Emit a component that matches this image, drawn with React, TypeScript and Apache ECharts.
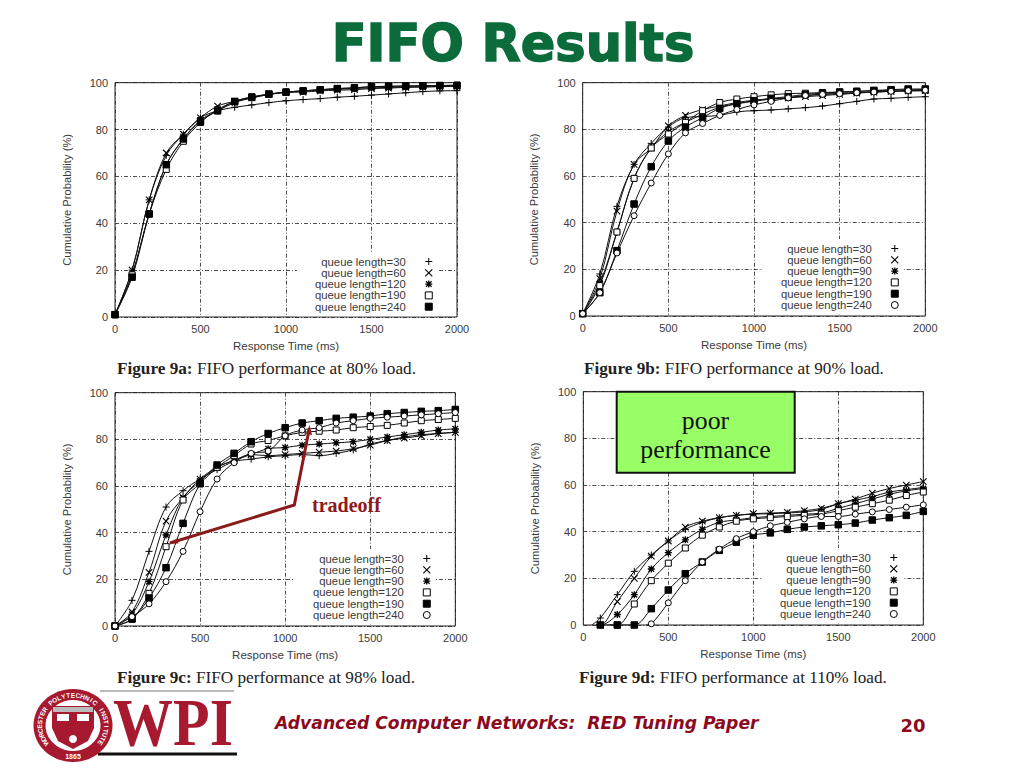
import React, { useEffect, useRef } from "react";
import * as echarts from "echarts";

const xSteps = [0,100,200,300,400,500,600,700,800,900,1000,1100,1200,1300,1400,1500,1600,1700,1800,1900,2000];

const a30 = [1,20,50,69,78,85,88,89.5,90.5,91.5,92.3,92.8,93.2,93.8,94.2,94.7,95.2,95.7,96.2,96.5,96.6];
const a60 = [1,20,50,70,78,85,90,92,93.5,95,95.8,96,96.5,96.8,97,97.5,97.7,98,98.1,98.3,98.4];
const a120 = [1,18,44,65,76,84,88,91.5,93.5,95,96,96.5,97,97.2,97.5,97.8,98,98.2,98.3,98.4,98.5];
const a190 = [1,18,44,63,75,83,88.5,92,94,95,96,96.5,97,97.5,97.8,98.3,98.4,98.6,98.7,98.8,99];
const a240 = [1,17,44,65,76,83.5,88,92,93.8,95.2,96,96.5,97,97.5,97.8,98.3,98.5,98.6,98.7,98.8,98.8];

const b30 = [1,18,47,65,74,81,85,85.5,86,87.5,88,88.3,88.8,89.3,90,91,92,93,93.3,93.7,94];
const b60 = [1,16,45,65,72,81.5,86,88.5,90,91.5,92.5,93,93.5,94,94.5,95,95.5,96,96.3,96.5,96.7];
const b90 = [1,14,36,59,72,79,83,86.5,89.5,91,92,93,93.5,94.5,95,95.5,95.7,96,96.3,96.5,96.5];
const b120 = [1,13,36,59,72,78,83,88,91.5,93,94,94.8,95.3,95.5,95.8,96,96.3,96.5,96.8,97,97];
const b190 = [1,10,28,48,64,75,81,85,89,91,92.3,93.3,94,95,95.5,96,96.3,96.7,97,97.3,97.3];
const b240 = [1,10,27,43,57,69.5,78.5,82.5,86,88.5,90.5,92,93.5,94.5,95,95.3,95.7,96,96.3,96.6,96.8];

const c30 = [0,11,32,51,58,63,67,70.5,71.5,72.5,73,73.5,73,74,75.5,78,79.5,81,82,82.5,83];
const c60 = [0,6,23,45,55,63,68,71,73.5,73,73.5,74,74.5,75,76,77.5,79.5,80.5,81.5,82.5,83];
const c90 = [0,5,19,39,55,62,68,71,73.5,76,76.5,77.5,78,78.5,79,80,81,82,83,84,84.5];
const c120 = [0,3,14,34,54,61,68,73,78,79.5,81.5,83,83.5,84,85,85.5,86,87,88,88.5,89];
const c190 = [0,3,12,25,44,61,69,74,79,82.5,85,87,88,89,89.5,90,91,91.5,92,92.3,92.8];
const c240 = [0,4,9.5,19,32,49,63,70,74,75,81.5,84,85,87,88,89,89.5,90,90.5,91,91.5];

const d30 = [null,3,13,23,30,36,41,44,46,47,47.5,47.7,48,48.5,49.5,52,53.5,55,57,58,59];
const d60 = [null,0,10,20,29.5,36,42,44.5,46,47,47.7,48,48.3,49,50,52,54,56.5,58.5,60,61.5];
const d90 = [null,0,4.5,13,24,31,36.5,41,44,45,46,46.5,47,47.5,48,50,52,54,56,57.5,58.5];
const d120 = [null,null,0,9,19,26.5,33,38.5,42,44.5,45.5,46,46.5,47,47.5,49,50.5,52,53.5,55.5,57];
const d190 = [null,0,0,0,7,15,22,27,32,35.5,38.5,39.5,41,42,42.5,43,43.7,45,46,47,48.7];
const d240 = [null,null,null,null,0.5,9.5,19,27,32.5,37,40,42.5,44,45.5,46.5,46.5,47.5,48.5,49.5,50.5,51.5];

const PLUS = "path://M0 5H10M5 0V10";
const CROSS = "path://M1 1L9 9M1 9L9 1";
const STAR = "path://M0 5H10M5 0V10M1 1L9 9M1 9L9 1";
const SQUARE = "path://M0 0H10V10H0Z";
const DOT = "path://M0 5A5 5 0 1 1 10 5A5 5 0 1 1 0 5Z";

const marks: Record<string, any> = {
  plus: { symbol: PLUS, size: 7, fill: "transparent", stroke: 1 },
  cross: { symbol: CROSS, size: 6.5, fill: "transparent", stroke: 1.1 },
  star: { symbol: STAR, size: 7, fill: "transparent", stroke: 1.3 },
  open: { symbol: SQUARE, size: 6, fill: "#fff", stroke: 1 },
  full: { symbol: SQUARE, size: 6.5, fill: "#000", stroke: 1 },
  ring: { symbol: DOT, size: 6, fill: "#fff", stroke: 1 },
};

const panels = [
  { grid: { left: 115, top: 82.7, width: 342, height: 234.3 }, legend: { left: 297, top: 252 },
    series: [["queue length=30", "plus", a30], ["queue length=60", "cross", a60], ["queue length=120", "star", a120], ["queue length=190", "open", a190], ["queue length=240", "full", a240]] },
  { grid: { left: 582.7, top: 82.7, width: 342.6, height: 233.3 }, legend: { left: 763, top: 239 },
    series: [["queue length=30", "plus", b30], ["queue length=60", "cross", b60], ["queue length=90", "star", b90], ["queue length=120", "open", b120], ["queue length=190", "full", b190], ["queue length=240", "ring", b240]] },
  { grid: { left: 115, top: 392.7, width: 340.3, height: 233.3 }, legend: { left: 295, top: 549 },
    series: [["queue length=30", "plus", c30], ["queue length=60", "cross", c60], ["queue length=90", "star", c90], ["queue length=120", "open", c120], ["queue length=190", "full", c190], ["queue length=240", "ring", c240]] },
  { grid: { left: 583.3, top: 391.7, width: 340, height: 233.3 }, legend: { left: 762, top: 548 },
    series: [["queue length=30", "plus", d30, 50], ["queue length=60", "cross", d60, 75], ["queue length=90", "star", d90, 75], ["queue length=120", "open", d120, 150], ["queue length=190", "full", d190], ["queue length=240", "ring", d240, 370]] },
];

const FONT = "'Liberation Sans', Arial, sans-serif";
const SERIF = "'Liberation Serif', serif";
const TEXT_GRAY = "#3a3a3a";
const CRIMSON = "#a6192e";
const MAROON = "#8b0a1e";

const sealLetters = (text: string, startDeg: number, endDeg: number) => {
  const chars = text.split("");
  return chars.map((ch, i) => {
    const t = startDeg + ((endDeg - startDeg) * i) / (chars.length - 1);
    const r = (t * Math.PI) / 180;
    return {
      type: "text", z: 22,
      x: 73 + 33.5 * Math.sin(r), y: 725.5 - 30.5 * Math.cos(r),
      rotation: -r,
      style: { text: ch, fill: "#fff", font: `bold 6.5px ${FONT}`, textAlign: "center", textVerticalAlign: "middle" },
    };
  });
};

const caption = (x: number, y: number, head: string, rest: string) => ({
  type: "text", z: 10, x, y,
  style: {
    text: `{b|${head}}{n| ${rest}}`,
    rich: {
      b: { font: `bold 17.2px ${SERIF}`, fill: "#222" },
      n: { font: `17.2px ${SERIF}`, fill: "#222" },
    },
    textVerticalAlign: "middle",
  },
});

function buildOption() {
  const grids: any[] = [], xAxes: any[] = [], yAxes: any[] = [], series: any[] = [], legends: any[] = [];
  panels.forEach((p, i) => {
    grids.push({ ...p.grid, show: true, borderColor: "#222", borderWidth: 1, backgroundColor: "transparent" });
    const splitLine = { show: true, lineStyle: { color: "#222", width: 0.8, type: [4, 2, 1, 2] } };
    xAxes.push({
      gridIndex: i, type: "value", min: 0, max: 2000, interval: 500,
      name: "Response Time (ms)", nameLocation: "middle", nameGap: 23,
      nameTextStyle: { color: TEXT_GRAY, fontFamily: FONT, fontSize: 11.5 },
      axisLabel: { color: TEXT_GRAY, fontFamily: FONT, fontSize: 11, margin: 6, formatter: (v: number) => String(v) },
      axisTick: { show: false }, axisLine: { show: false }, splitLine,
    });
    yAxes.push({
      gridIndex: i, type: "value", min: 0, max: 100, interval: 20,
      name: "Cumulative Probability (%)", nameLocation: "middle", nameGap: 43,
      nameTextStyle: { color: TEXT_GRAY, fontFamily: FONT, fontSize: 11.2 },
      axisLabel: { color: TEXT_GRAY, fontFamily: FONT, fontSize: 11, margin: 7 },
      axisTick: { show: false }, axisLine: { show: false }, splitLine,
    });
    const legendData: any[] = [];
    (p.series as any[]).forEach(([name, markKey, values, startX]) => {
      const mark = marks[markKey];
      const pts: any[] = [];
      if (startX !== undefined) pts.push({ value: [startX, 0], symbol: "none" });
      (values as (number | null)[]).forEach((v, k) => { if (v !== null) pts.push([xSteps[k], v]); });
      series.push({
        type: "line", name, xAxisIndex: i, yAxisIndex: i, data: pts,
        smooth: 0.35, showAllSymbol: true,
        symbol: mark.symbol, symbolSize: mark.size, legendHoverLink: false,
        lineStyle: { color: "#111", width: 1 },
        itemStyle: { color: mark.fill, borderColor: "#000", borderWidth: mark.stroke, opacity: 1 },
        emphasis: { disabled: true }, silent: true,
      });
      legendData.push({
        name, icon: mark.symbol,
        itemStyle: { color: mark.fill, borderColor: "#000", borderWidth: mark.stroke },
      });
    });
    legends.push({
      ...p.legend, orient: "vertical", align: "right", selectedMode: false,
      itemWidth: 36, itemHeight: 7, itemGap: 0.3, padding: [4, 5, 4, 18],
      backgroundColor: "#fff", data: legendData,
      textStyle: { color: TEXT_GRAY, fontFamily: FONT, fontSize: 11.3, lineHeight: 11, padding: 0 },
    });
  });

  const graphic: any[] = [
    { type: "text", z: 10, x: 513, y: 43, style: {
      text: "FIFO Results", fill: "#0b6b3a", stroke: "#0b6b3a", lineWidth: 1.5,
      font: "bold 51px 'DejaVu Sans', sans-serif", textAlign: "center", textVerticalAlign: "middle",
      shadowColor: "rgba(0,0,0,0.4)", shadowBlur: 2, shadowOffsetX: 2, shadowOffsetY: 2,
    } },
    caption(117, 368, "Figure 9a:", "FIFO performance at 80% load."),
    caption(584, 368, "Figure 9b:", "FIFO performance at 90% load."),
    caption(117, 677, "Figure 9c:", "FIFO performance at 98% load."),
    caption(579, 677, "Figure 9d:", "FIFO performance at 110% load."),
    { type: "rect", z: 10, shape: { x: 616.7, y: 391.7, width: 178, height: 81 },
      style: { fill: "#99ff66", stroke: "#111", lineWidth: 2 } },
    { type: "text", z: 11, x: 705.5, y: 420, style: { text: "poor", fill: "#111", font: `25.8px ${SERIF}`, textAlign: "center", textVerticalAlign: "middle" } },
    { type: "text", z: 11, x: 705.5, y: 449, style: { text: "performance", fill: "#111", font: `25.8px ${SERIF}`, textAlign: "center", textVerticalAlign: "middle" } },
    { type: "polyline", z: 12, shape: { points: [[170, 543], [294.3, 505], [309, 430]] },
      style: { stroke: "#8b1a1a", lineWidth: 3, fill: "none" } },
    { type: "polygon", z: 12, shape: { points: [[168, 543.5], [177, 538.5], [178.5, 543.5]] }, style: { fill: "#8b1a1a" } },
    { type: "polygon", z: 12, shape: { points: [[309.5, 425], [306, 434], [312, 435]] }, style: { fill: "#8b1a1a" } },
    { type: "text", z: 12, x: 312, y: 505, style: { text: "tradeoff", fill: "#8b1a1a", font: `bold 20px ${SERIF}`, textVerticalAlign: "middle" } },

    // footer
    { type: "text", z: 10, x: 275, y: 723, style: { text: "Advanced Computer Networks:  RED Tuning Paper", fill: MAROON,
      font: "italic bold 17.2px 'DejaVu Sans', sans-serif", textVerticalAlign: "middle" } },
    { type: "text", z: 10, x: 913, y: 725, style: { text: "20", fill: MAROON, font: "bold 18px 'DejaVu Sans', sans-serif", textAlign: "center", textVerticalAlign: "middle" } },

    // WPI logo
    { type: "line", z: 10, shape: { x1: 100, y1: 691, x2: 234, y2: 691 }, style: { stroke: "#777", lineWidth: 1 } },
    { type: "line", z: 10, shape: { x1: 98, y1: 754, x2: 237, y2: 754 }, style: { stroke: "#111", lineWidth: 3 } },
    { type: "text", z: 10, x: 113, y: 722, scaleY: 1.12, style: { text: "WPI", fill: CRIMSON, font: `bold 60px ${SERIF}`, textVerticalAlign: "middle" } },
    { type: "ellipse", z: 20, shape: { cx: 73, cy: 725.5, rx: 39.5, ry: 36.5 }, style: { fill: CRIMSON } },
    { type: "ellipse", z: 21, shape: { cx: 73, cy: 725.5, rx: 27, ry: 25 }, style: { fill: "#fff", stroke: "#fff", lineWidth: 1 } },
    ...sealLetters("WORCESTER POLYTECHNIC INSTITUTE", -125, 125),
    { type: "text", z: 22, x: 73, y: 756, style: { text: "1865", fill: "#fff", font: `bold 7px ${FONT}`, textAlign: "center", textVerticalAlign: "middle" } },
    { type: "polygon", z: 22, shape: { points: [[52, 706], [94, 706], [94, 728], [88, 741], [73, 749], [58, 741], [52, 728]] }, style: { fill: CRIMSON } },
    { type: "polygon", z: 23, shape: { points: [[53, 707], [93, 707], [93, 712], [53, 712]] }, style: { fill: "#bbb" } },
    { type: "rect", z: 23, shape: { x: 57, y: 714, width: 12, height: 7 }, style: { fill: "#fff" } },
    { type: "rect", z: 23, shape: { x: 77, y: 714, width: 12, height: 7 }, style: { fill: "#fff" } },
    { type: "circle", z: 23, shape: { cx: 73, cy: 739, r: 4 }, style: { fill: "#fff" } },
  ];

  return {
    animation: false, backgroundColor: "#fff",
    grid: grids, xAxis: xAxes, yAxis: yAxes, series, legend: legends, graphic,
    tooltip: { show: false },
  };
}

export default function App() {
  const ref = useRef<HTMLDivElement>(null);
  useEffect(() => {
    const chart = echarts.init(ref.current!, undefined, { renderer: "svg" });
    chart.setOption(buildOption() as any);
    return () => chart.dispose();
  }, []);
  return <div ref={ref} style={{ position: "absolute", left: 0, top: 0, width: 1024, height: 768 }} />;
}
